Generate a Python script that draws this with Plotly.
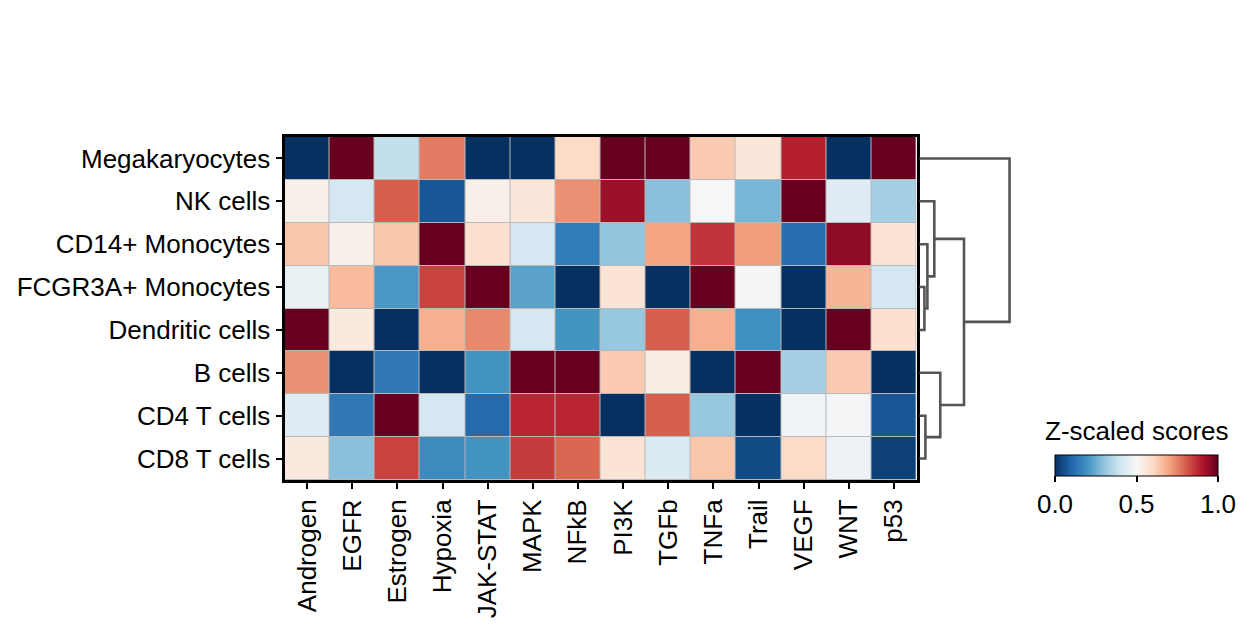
import plotly.graph_objects as go

# ---------------- data ----------------
pathways = ["Androgen", "EGFR", "Estrogen", "Hypoxia", "JAK-STAT", "MAPK", "NFkB",
            "PI3K", "TGFb", "TNFa", "Trail", "VEGF", "WNT", "p53"]
cell_types = ["Megakaryocytes", "NK cells", "CD14+ Monocytes", "FCGR3A+ Monocytes",
              "Dendritic cells", "B cells", "CD4 T cells", "CD8 T cells"]

megakaryocytes = [0.00, 1.00, 0.38, 0.76, 0.00, 0.00, 0.60, 1.00, 1.00, 0.63, 0.56, 0.89, 0.00, 1.00]
nk_cells       = [0.53, 0.41, 0.80, 0.07, 0.53, 0.56, 0.73, 0.93, 0.29, 0.50, 0.27, 1.00, 0.44, 0.33]
cd14_mono      = [0.64, 0.53, 0.64, 1.00, 0.58, 0.41, 0.15, 0.30, 0.70, 0.86, 0.71, 0.12, 0.95, 0.57]
fcgr3a_mono    = [0.46, 0.66, 0.21, 0.84, 1.00, 0.23, 0.00, 0.57, 0.00, 1.00, 0.49, 0.00, 0.67, 0.41]
dendritic      = [1.00, 0.55, 0.00, 0.68, 0.74, 0.41, 0.20, 0.31, 0.80, 0.68, 0.19, 0.00, 1.00, 0.58]
b_cells        = [0.73, 0.00, 0.14, 0.00, 0.20, 1.00, 1.00, 0.63, 0.54, 0.00, 1.00, 0.33, 0.63, 0.00]
cd4_t          = [0.44, 0.14, 1.00, 0.41, 0.11, 0.88, 0.88, 0.00, 0.80, 0.31, 0.00, 0.48, 0.49, 0.07]
cd8_t          = [0.55, 0.29, 0.84, 0.18, 0.20, 0.85, 0.79, 0.57, 0.43, 0.64, 0.05, 0.60, 0.47, 0.03]

scores = [megakaryocytes, nk_cells, cd14_mono, fcgr3a_mono, dendritic, b_cells, cd4_t, cd8_t]

# hierarchical linkage (scipy style): child a, child b, merge height
linkage = [
    (3, 4, 0.5),
    (6, 7, 0.6),
    (2, 8, 0.8),
    (1, 10, 1.5),
    (5, 9, 2.1),
    (11, 12, 4.5),
    (0, 13, 9.1),
]

colorbar_ticks = [0.0, 0.5, 1.0]
colorbar_ticktext = ["0.0", "0.5", "1.0"]

# matplotlib RdBu_r
rdbu_r = ["#053061", "#2166ac", "#4393c3", "#92c5de", "#d1e5f0", "#f7f7f7",
          "#fddbc7", "#f4a582", "#d6604d", "#b2182b", "#67001f"]
colorscale = [[i / (len(rdbu_r) - 1), c] for i, c in enumerate(rdbu_r)]

W, H = 1251, 628
FONT = "Liberation Sans, Arial, Helvetica, sans-serif"
FS = 26

# layout geometry (pixels)
hm_left, hm_right, hm_top, hm_bot = 284.5, 916.5, 137.0, 480.0
dd_left, dd_right = 916.5, 1014.0

def px_x(p):
    return p / W

def px_y(p):
    return 1 - p / H

fig = go.Figure()

fig.add_trace(go.Heatmap(
    z=scores,
    x=list(range(len(pathways))),
    y=list(range(len(cell_types))),
    colorscale=colorscale,
    zmin=0, zmax=1,
    xgap=1, ygap=1,
    hoverongaps=False,
    colorbar=dict(
        orientation="h",
        x=px_x(1136.5), xanchor="center",
        y=px_y(455), yanchor="top",
        lenmode="pixels", len=163,
        thickness=21,
        xpad=0, ypad=0,
        outlinewidth=1, outlinecolor="black",
        tickvals=colorbar_ticks, ticktext=colorbar_ticktext,
        ticks="outside", ticklen=6, tickwidth=1.5, tickcolor="black",
        tickfont=dict(family=FONT, size=FS, color="black"),
    ),
    xaxis="x", yaxis="y",
))

# dendrogram from linkage
n = len(cell_types)
pos = {i: float(i) for i in range(n)}
hgt = {i: 0.0 for i in range(n)}
dx, dy = [], []
for k, (a, b, h) in enumerate(linkage):
    node = n + k
    dx += [hgt[a], h, h, hgt[b], None]
    dy += [pos[a], pos[a], pos[b], pos[b], None]
    pos[node] = (pos[a] + pos[b]) / 2
    hgt[node] = h

fig.add_trace(go.Scatter(
    x=dx, y=dy, mode="lines",
    line=dict(color="#555555", width=2.6),
    hoverinfo="skip", showlegend=False,
    xaxis="x2", yaxis="y2", cliponaxis=False,
))

max_h = max(l[2] for l in linkage)

fig.update_layout(
    width=W, height=H,
    margin=dict(l=0, r=0, t=0, b=0),
    paper_bgcolor="white",
    plot_bgcolor="white",
    font=dict(family=FONT, size=FS, color="black"),
    showlegend=False,
    xaxis=dict(
        domain=[px_x(hm_left), px_x(hm_right)],
        range=[-0.5, len(pathways) - 0.5],
        tickvals=list(range(len(pathways))), ticktext=pathways,
        tickangle=-90,
        ticks="outside", ticklen=6, tickwidth=2, tickcolor="black",
        showline=True, linewidth=3, linecolor="black", mirror=True,
        showgrid=False, zeroline=False,
        tickfont=dict(family=FONT, size=FS, color="black"),
        anchor="y",
    ),
    yaxis=dict(
        domain=[px_y(hm_bot), px_y(hm_top)],
        range=[len(cell_types) - 0.5, -0.5],
        tickvals=list(range(len(cell_types))), ticktext=cell_types,
        ticks="outside", ticklen=6, tickwidth=2, tickcolor="black",
        showline=True, linewidth=3, linecolor="black", mirror=True,
        showgrid=False, zeroline=False,
        tickfont=dict(family=FONT, size=FS, color="black"),
        anchor="x",
    ),
    xaxis2=dict(
        domain=[px_x(dd_left), px_x(dd_right)],
        range=[-0.3, max_h + 0.45],
        visible=False, anchor="y2",
    ),
    yaxis2=dict(
        domain=[px_y(hm_bot), px_y(hm_top)],
        range=[len(cell_types) - 0.5, -0.5],
        visible=False, anchor="x2",
    ),
    annotations=[dict(
        text="Z-scaled scores", xref="paper", yref="paper",
        x=px_x(1136.5), y=px_y(448), xanchor="center", yanchor="bottom",
        showarrow=False, font=dict(family=FONT, size=FS, color="black"),
    )],
    shapes=[
        dict(
            type="rect", xref="x", yref="y", layer="below",
            x0=-0.5, x1=len(pathways) - 0.5, y0=-0.5, y1=len(cell_types) - 0.5,
            fillcolor="#b8b8b8", line=dict(width=0),
        ),
        dict(
            type="line", xref="paper", yref="paper",
            x0=px_x(1136.5), x1=px_x(1136.5), y0=px_y(456), y1=px_y(476),
            line=dict(color="#bbbbbb", width=1.5),
        ),
    ],
)

fig.write_html("out.html")
